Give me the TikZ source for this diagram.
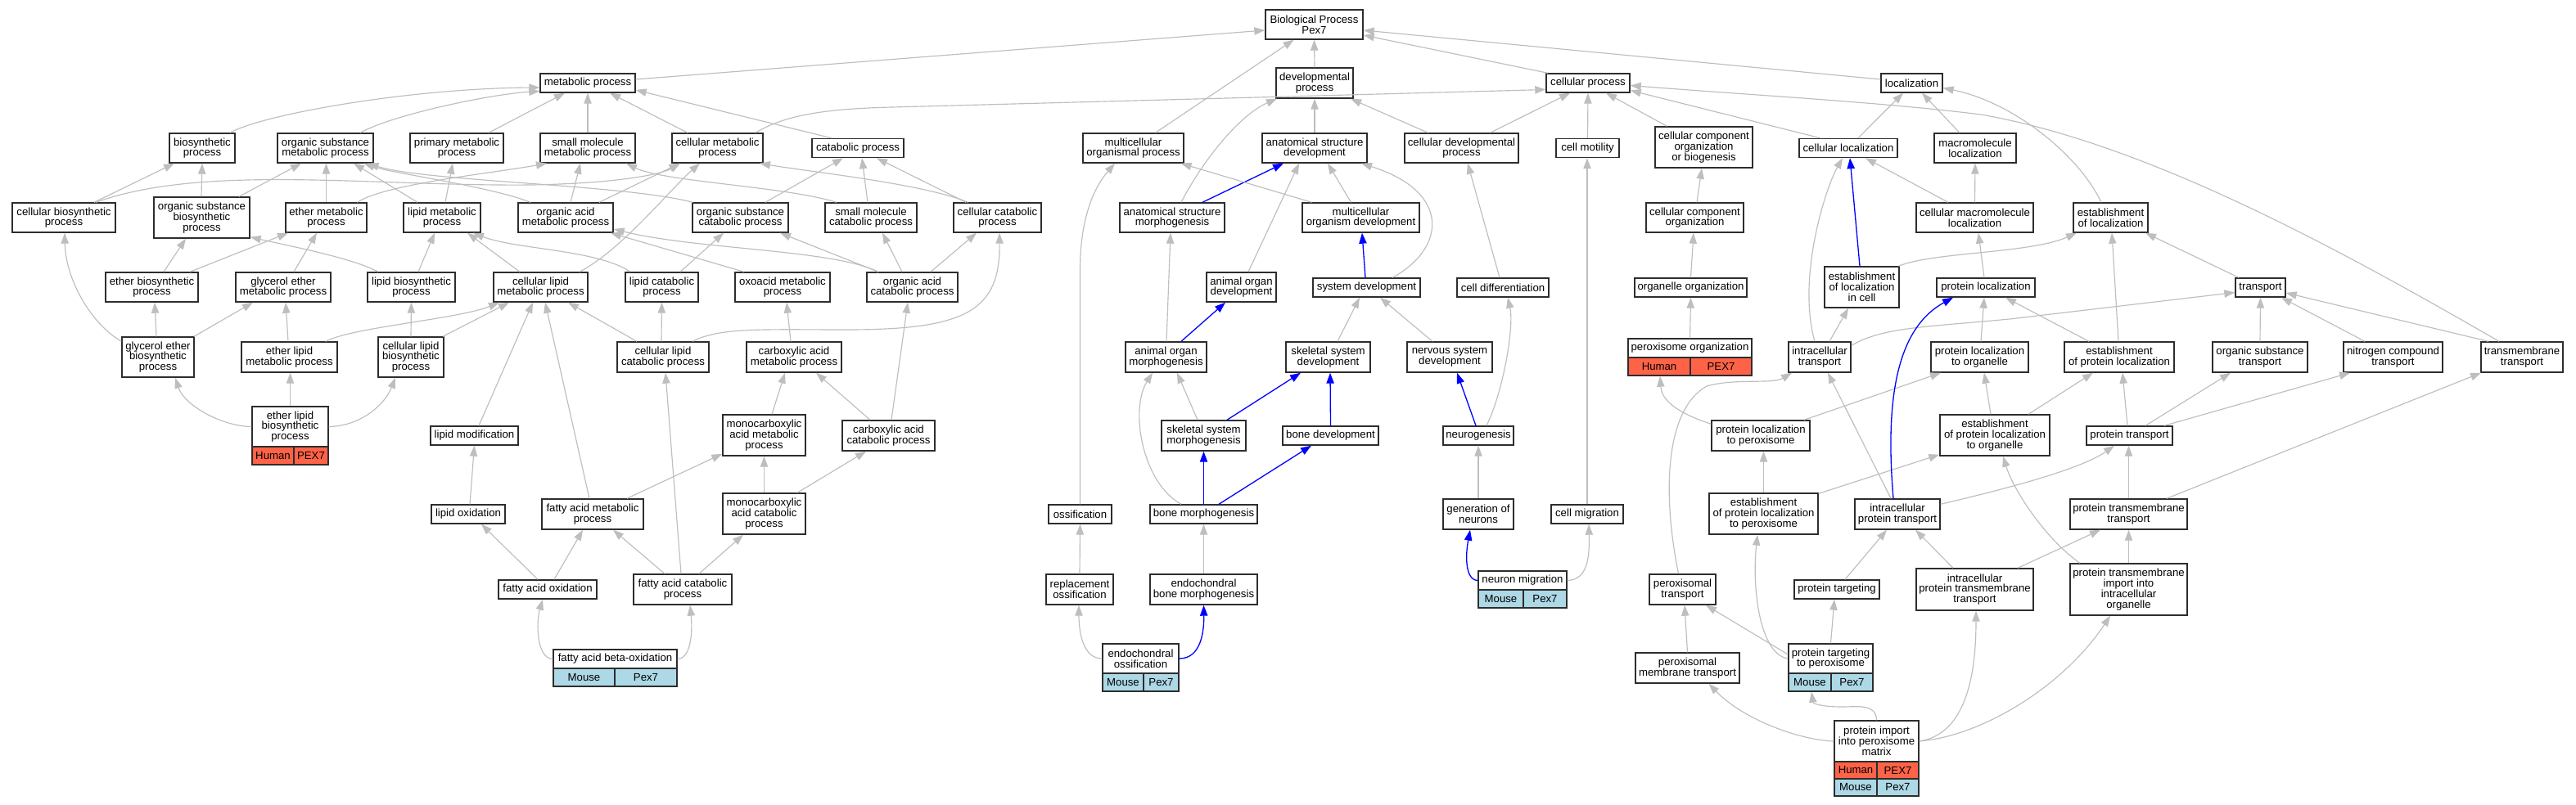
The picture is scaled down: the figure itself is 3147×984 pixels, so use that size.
\documentclass[tikz,border=0pt]{standalone}
\usepackage{fontspec}
\setmainfont{Liberation Sans}
\usetikzlibrary{arrows.meta}
\definecolor{edgegray}{RGB}{190,190,190}
\definecolor{humanred}{RGB}{255,99,71}
\definecolor{mouseblue}{RGB}{173,216,230}
\definecolor{bord}{RGB}{45,45,45}
\definecolor{edgeblue}{RGB}{0,0,255}
\newcommand{\gonode}[6]{\node[box,minimum width=#4pt,minimum height=#5pt] (#1) at (#2,#3) {#6};}
\newcommand{\gocell}[7]{\node[cellbox,fill=#6,minimum width=#4pt,minimum height=#5pt] (#1) at (#2,#3) {#7};}
\begin{document}
\begin{tikzpicture}[x=1pt,y=-1pt,
  box/.style={draw=bord,line width=1.4pt,fill=white,align=center,inner sep=0pt,font=\fontsize{13.2}{12.8}\selectfont},
  cellbox/.style={draw=bord,line width=1.4pt,align=center,inner sep=0pt,font=\fontsize{13.2}{12.8}\selectfont},
  e/.style={draw=edgegray,line width=1.15pt,-{Triangle[length=13pt,width=9.3pt]}},
  eb/.style={draw=edgeblue,line width=1.3pt,-{Triangle[length=13pt,width=9.3pt]}}]
\fill[white] (0,0) rectangle (3147,984);
\useasboundingbox (0,0) rectangle (3147,984);
% ---- nodes ----
\gonode{bp}{1605.5}{30}{119}{36}{Biological Process\\Pex7}
\gonode{mp}{718}{101.5}{116}{23}{metabolic process}
\gonode{dp}{1606}{101.5}{94}{37}{developmental\\process}
\gonode{cp}{1940}{101.5}{102}{23}{cellular process}
\gonode{loc}{2335.5}{101.5}{75}{23}{localization}
\gonode{bsp}{247}{181}{80}{36}{biosynthetic\\process}
\gonode{osmp}{397.5}{181}{117}{36}{organic substance\\metabolic process}
\gonode{pmp}{558}{181}{114}{36}{primary metabolic\\process}
\gonode{smmp}{718}{181}{116}{36}{small molecule\\metabolic process}
\gonode{cmp}{876.5}{181}{111}{36}{cellular metabolic\\process}
\gonode{catp}{1048}{181}{112}{23}{catabolic process}
\gonode{mop}{1384.5}{181}{123}{36}{multicellular\\organismal process}
\gonode{asd}{1606}{181}{128}{36}{anatomical structure\\development}
\gonode{cdp}{1785.5}{181}{139}{36}{cellular developmental\\process}
\gonode{cmot}{1939.5}{181}{77}{23}{cell motility}
\gonode{ccob}{2081.5}{180}{119}{50}{cellular component\\organization\\or biogenesis}
\gonode{cloc}{2258}{181}{120}{23}{cellular localization}
\gonode{mloc}{2413}{181}{100}{36}{macromolecule\\localization}
\gonode{cbp}{78}{266}{126}{36}{cellular biosynthetic\\process}
\gonode{osbp}{246.5}{266}{117}{50}{organic substance\\biosynthetic\\process}
\gonode{emp}{398.5}{266}{99}{36}{ether metabolic\\process}
\gonode{lmp}{540}{266}{94}{36}{lipid metabolic\\process}
\gonode{oamp}{691}{266}{116}{36}{organic acid\\metabolic process}
\gonode{oscp}{904.5}{266}{117}{36}{organic substance\\catabolic process}
\gonode{smcp}{1064}{266}{112}{36}{small molecule\\catabolic process}
\gonode{ccp}{1218.5}{266}{107}{36}{cellular catabolic\\process}
\gonode{asm}{1432}{266}{128}{36}{anatomical structure\\morphogenesis}
\gonode{mod}{1662.5}{266}{143}{36}{multicellular\\organism development}
\gonode{cco}{2070.5}{266}{119}{36}{cellular component\\organization}
\gonode{cmloc}{2412.5}{266}{143}{36}{cellular macromolecule\\localization}
\gonode{eloc}{2578.5}{266}{91}{36}{establishment\\of localization}
\gonode{ebp}{185.5}{351}{113}{36}{ether biosynthetic\\process}
\gonode{gemp}{346}{351}{116}{36}{glycerol ether\\metabolic process}
\gonode{lbp}{502.5}{351}{107}{36}{lipid biosynthetic\\process}
\gonode{clmp}{660.5}{351}{115}{36}{cellular lipid\\metabolic process}
\gonode{lcp}{808.5}{351}{89}{36}{lipid catabolic\\process}
\gonode{oxmp}{956}{351}{116}{36}{oxoacid metabolic\\process}
\gonode{oacp}{1114.5}{351}{111}{36}{organic acid\\catabolic process}
\gonode{aod}{1516.5}{351}{85}{36}{animal organ\\development}
\gonode{sd}{1669.5}{351.5}{131}{23}{system development}
\gonode{cdiff}{1836}{351.5}{112}{23}{cell differentiation}
\gonode{oo}{2065.5}{351.5}{137}{23}{organelle organization}
\gonode{elic}{2274.5}{351}{91}{50}{establishment\\of localization\\in cell}
\gonode{ploc}{2426}{351.5}{120}{23}{protein localization}
\gonode{tr}{2761.5}{351.5}{61}{23}{transport}
\gonode{gebp}{193}{436.5}{88}{49}{glycerol ether\\biosynthetic\\process}
\gonode{elmp}{353.5}{436.5}{117}{37}{ether lipid\\metabolic process}
\gonode{clbp}{502}{436.5}{80}{49}{cellular lipid\\biosynthetic\\process}
\gonode{clcp}{810}{436.5}{112}{37}{cellular lipid\\catabolic process}
\gonode{camp}{970}{436.5}{116}{37}{carboxylic acid\\metabolic process}
\gonode{aom}{1424.5}{436.5}{99}{37}{animal organ\\morphogenesis}
\gonode{ssd}{1622.5}{436.5}{103}{37}{skeletal system\\development}
\gonode{nsd}{1771}{436.5}{104}{37}{nervous system\\development}
\gonode{po}{2064.5}{425.5}{151}{23}{peroxisome organization}
\gocell{poH}{2027}{448}{76}{22}{humanred}{Human}
\gocell{poP}{2102.5}{448}{75}{22}{humanred}{PEX7}
\gonode{it}{2223}{436.5}{76}{37}{intracellular\\transport}
\gonode{plo}{2418.5}{436.5}{119}{37}{protein localization\\to organelle}
\gonode{epl}{2589}{436.5}{134}{37}{establishment\\of protein localization}
\gonode{ost}{2761}{436.5}{116}{37}{organic substance\\transport}
\gonode{nct}{2923.5}{436.5}{121}{37}{nitrogen compound\\transport}
\gonode{tmt}{3081}{436.5}{100}{37}{transmembrane\\transport}
\gonode{elbp}{354.5}{521.5}{93}{49}{ether lipid\\biosynthetic\\process}
\gocell{elbpH}{333.5}{557}{51}{22}{humanred}{Human}
\gocell{elbpP}{380}{557}{42}{22}{humanred}{PEX7}
\gonode{lmod}{579.5}{532.5}{107}{23}{lipid modification}
\gonode{mcamp}{933.5}{532}{101}{50}{monocarboxylic\\acid metabolic\\process}
\gonode{cacp}{1085.5}{532.5}{113}{37}{carboxylic acid\\catabolic process}
\gonode{ssm}{1470.5}{532.5}{103}{37}{skeletal system\\morphogenesis}
\gonode{bd}{1625.5}{532.5}{117}{23}{bone development}
\gonode{neur}{1806}{532.5}{86}{23}{neurogenesis}
\gonode{plp}{2151}{532.5}{120}{37}{protein localization\\to peroxisome}
\gonode{eplo}{2437}{532}{134}{50}{establishment\\of protein localization\\to organelle}
\gonode{pt}{2601.5}{532.5}{105}{23}{protein transport}
\gonode{lox}{572}{628.5}{90}{23}{lipid oxidation}
\gonode{famp}{724}{628.5}{124}{37}{fatty acid metabolic\\process}
\gonode{mcacp}{933.5}{628}{101}{50}{monocarboxylic\\acid catabolic\\process}
\gonode{oss}{1319.5}{628.5}{77}{23}{ossification}
\gonode{bm}{1470.5}{628.5}{131}{23}{bone morphogenesis}
\gonode{gon}{1806}{628.5}{86}{37}{generation of\\neurons}
\gonode{cmig}{1939}{628.5}{88}{23}{cell migration}
\gonode{eplp}{2154.5}{628}{133}{50}{establishment\\of protein localization\\to peroxisome}
\gonode{ipt}{2318}{628.5}{104}{37}{intracellular\\protein transport}
\gonode{ptt}{2600.5}{628.5}{143}{37}{protein transmembrane\\transport}
\gonode{fao}{669}{720.5}{120}{23}{fatty acid oxidation}
\gonode{facp}{834}{720.5}{120}{37}{fatty acid catabolic\\process}
\gonode{ross}{1319}{720.5}{82}{37}{replacement\\ossification}
\gonode{ebm}{1470.5}{720.5}{131}{37}{endochondral\\bone morphogenesis}
\gonode{nm}{1860}{709.5}{108}{23}{neuron migration}
\gocell{nmM}{1833.5}{732}{55}{22}{mouseblue}{Mouse}
\gocell{nmP}{1887.5}{732}{53}{22}{mouseblue}{Pex7}
\gonode{ptr}{2055.5}{720.5}{81}{37}{peroxisomal\\transport}
\gonode{ptg}{2244}{720.5}{104}{23}{protein targeting}
\gonode{iptt}{2412.5}{720.5}{143}{51}{intracellular\\protein transmembrane\\transport}
\gonode{ptiio}{2600.5}{720.5}{143}{63}{protein transmembrane\\import into\\intracellular\\organelle}
\gonode{fabo}{751.5}{805.5}{151}{23}{fatty acid beta-oxidation}
\gocell{faboM}{713.5}{828}{75}{22}{mouseblue}{Mouse}
\gocell{faboP}{789}{828}{76}{22}{mouseblue}{Pex7}
\gonode{eo}{1393.5}{805}{93}{36}{endochondral\\ossification}
\gocell{eoM}{1372}{834}{50}{22}{mouseblue}{Mouse}
\gocell{eoP}{1418.5}{834}{43}{22}{mouseblue}{Pex7}
\gonode{pmt}{2061.5}{816.5}{127}{37}{peroxisomal\\membrane transport}
\gonode{ptp}{2236.5}{805}{103}{36}{protein targeting\\to peroxisome}
\gocell{ptpM}{2211}{834}{52}{22}{mouseblue}{Mouse}
\gocell{ptpP}{2262.5}{834}{51}{22}{mouseblue}{Pex7}
\gonode{pipm}{2292.5}{906}{103}{50}{protein import\\into peroxisome\\matrix}
\gocell{pipmH}{2267}{941.5}{52}{21}{humanred}{Human}
\gocell{pipmP}{2318.5}{941.5}{51}{21}{humanred}{PEX7}
\gocell{pipmM}{2267}{962.5}{52}{21}{mouseblue}{Mouse}
\gocell{pipmQ}{2318.5}{962.5}{51}{21}{mouseblue}{Pex7}
% ---- edges: top ----
\draw[e] ([yshift=4.5pt]mp.east) -- ([yshift=-7pt]bp.west);
\draw[e] (dp.north) -- (bp.south);
\draw[e] ([xshift=-49pt]cp.north) -- ([yshift=-13pt]bp.east);
\draw[e] ([yshift=4.5pt]loc.west) -- ([yshift=-7pt]bp.east);
\draw[e] ([xshift=27pt]mop.north) -- ([xshift=-25pt]bp.south);
\draw[e] ([xshift=34pt]bsp.north) .. controls (320,140) and (500,108) .. ([yshift=-5.5pt]mp.west);
\draw[e] ([xshift=42.5pt]osmp.north) .. controls (480,140) and (600,115) .. ([yshift=-10pt]mp.west);
\draw[e] ([xshift=39pt]pmp.north) -- ([xshift=-28pt]mp.south);
\draw[e] (smmp.north) -- (mp.south);
\draw[e] ([xshift=-36.5pt]cmp.north) -- ([xshift=27pt]mp.south);
\draw[e] ([xshift=-32pt]catp.north) -- ([yshift=-8.5pt]mp.east);
\draw[e] ([xshift=46.5pt]cmp.north) .. controls (960,140) and (1010,133) .. (1090,131) -- ([yshift=-8pt]cp.west);
% row 266 -> 181
\draw[e] ([xshift=37pt]cbp.north) -- ([xshift=-34pt]bsp.south);
\draw[e] ([xshift=39pt]cbp.north) .. controls (250,200) and (450,228) .. (650,226) .. controls (760,224) and (810,212) .. ([xshift=-45.5pt]cmp.south);
\draw[e] ([xshift=-0.5pt]osbp.north) -- (bsp.south);
\draw[e] ([xshift=45.5pt]osbp.north) -- ([xshift=-29.5pt]osmp.south);
\draw[e] (emp.north) -- ([xshift=1pt]osmp.south);
\draw[e] ([xshift=38pt]emp.north) .. controls (470,225) and (600,212) .. ([xshift=-50pt]smmp.south);
\draw[e] ([xshift=-30pt]lmp.north) -- ([xshift=34.5pt]osmp.south);
\draw[e] ([xshift=4pt]lmp.north) -- ([xshift=-5pt]pmp.south);
\draw[e] ([xshift=-43pt]oamp.north) .. controls (600,228) and (480,212) .. ([xshift=47pt]osmp.south);
\draw[e] ([xshift=6pt]oamp.north) -- ([xshift=-9pt]smmp.south);
\draw[e] ([xshift=41pt]oamp.north) -- ([xshift=-46pt]cmp.south);
\draw[e] ([xshift=-58pt]oscp.north) .. controls (760,225) and (520,222) .. ([xshift=52pt]osmp.south);
\draw[e] ([xshift=30.5pt]oscp.north) -- ([xshift=-18pt]catp.south);
\draw[e] ([xshift=-42pt]smcp.north) .. controls (960,228) and (810,222) .. ([xshift=47pt]smmp.south);
\draw[e] ([xshift=-4pt]smcp.north) -- ([xshift=5pt]catp.south);
\draw[e] ([xshift=-38.5pt]ccp.north) -- ([xshift=23pt]catp.south);
\draw[e] ([xshift=-36pt]ccp.north) .. controls (1130,225) and (990,210) .. ([xshift=51.5pt]cmp.south);
\draw[eb] ([xshift=37pt]asm.north) -- ([xshift=-38pt]asd.south);
\draw[e] ([xshift=11pt]asm.north) .. controls (1470,195) and (1515,140) .. ([xshift=-46pt]dp.south);
\draw[e] ([xshift=-60pt]mod.north) -- ([xshift=58pt]mop.south);
\draw[e] ([xshift=-12pt]mod.north) -- ([xshift=16pt]asd.south);
\draw[e] ([xshift=-41pt]cdp.north) -- ([xshift=44pt]dp.south);
\draw[e] ([xshift=35pt]cdp.north) -- ([xshift=-22pt]cp.south);
\draw[e] (asd.north) -- (dp.south);
\draw[e] (cmot.north) -- (cp.south);
\draw[e] ([xshift=-45pt]ccob.north) -- ([xshift=22pt]cp.south);
\draw[e] ([xshift=-34pt]cloc.north) -- ([yshift=-9pt]cp.east);
\draw[e] ([xshift=-28pt]tmt.north) .. controls (2850,300) and (2620,175) .. (2420,140) .. controls (2300,125) and (2150,117) .. ([yshift=-3pt]cp.east);
\draw[e] ([xshift=12pt]cloc.north) -- ([xshift=-10.5pt]loc.south);
\draw[e] ([xshift=-19pt]mloc.north) -- ([xshift=12.5pt]loc.south);
\draw[e] ([xshift=-11.5pt]eloc.north) .. controls (2540,190) and (2460,125) .. ([yshift=-6pt]loc.east);
\draw[e] ([xshift=2.5pt]cco.north) -- ([xshift=-2.5pt]ccob.south);
\draw[e] ([xshift=-32.5pt]cmloc.north) -- ([xshift=21pt]cloc.south);
\draw[e] (cmloc.north) -- (mloc.south);
% row 351
\draw[e] ([xshift=14.5pt]ebp.north) -- ([xshift=-19.5pt]osbp.south);
\draw[e] ([xshift=46.5pt]ebp.north) -- ([xshift=-46.5pt]emp.south);
\draw[e] ([xshift=13pt]gemp.north) -- ([xshift=-11.5pt]emp.south);
\draw[e] ([xshift=-40.5pt]lbp.north) .. controls (430,315) and (350,300) .. ([yshift=2pt]osbp.south east);
\draw[e] ([xshift=8.5pt]lbp.north) -- ([xshift=-9pt]lmp.south);
\draw[e] ([xshift=-25.5pt]clmp.north) -- ([xshift=31pt]lmp.south);
\draw[e] ([xshift=47.5pt]clmp.north) .. controls (760,305) and (820,230) .. ([xshift=-21.5pt]cmp.south);
\draw[e] ([xshift=-38.5pt]lcp.north) .. controls (730,305) and (630,305) .. ([xshift=38pt]lmp.south);
\draw[e] ([xshift=22.5pt]lcp.north) -- ([xshift=-20.5pt]oscp.south);
\draw[e] ([xshift=-47pt]oxmp.north) -- ([xshift=55pt]oamp.south);
\draw[e] ([xshift=-42pt]oacp.north) .. controls (1020,305) and (850,305) .. ([yshift=-14pt]oamp.east);
\draw[e] ([xshift=-41.5pt]oacp.north) -- ([xshift=48.5pt]oscp.south);
\draw[e] ([xshift=-12.5pt]oacp.north) -- ([xshift=14pt]smcp.south);
\draw[e] ([xshift=22.5pt]oacp.north) -- ([xshift=-25.5pt]ccp.south);
\draw[e] ([xshift=8.5pt]aod.north) -- ([xshift=-19pt]asd.south);
\draw[e] ([xshift=31.5pt]sd.north) .. controls (1765,305) and (1775,235) .. ([xshift=57pt]asd.south);
\draw[eb] ([xshift=-1.5pt]sd.north) -- ([xshift=1.5pt]mod.south);
\draw[e] ([xshift=-4pt]cdiff.north) -- ([xshift=7.5pt]cdp.south);
\draw[e] (oo.north) -- ([xshift=-1.5pt]cco.south);
\draw[eb] ([xshift=-2.5pt]elic.north) -- ([xshift=2pt]cloc.south);
\draw[e] ([xshift=45pt]elic.north) .. controls (2360,308) and (2480,310) .. ([xshift=-41.5pt]eloc.south);
\draw[e] ([xshift=-2pt]ploc.north) -- ([xshift=4.5pt]cmloc.south);
\draw[e] ([xshift=-26.5pt]tr.north) -- ([xshift=42.5pt]eloc.south);
% row 437
\draw[e] ([yshift=-6pt]gebp.north west) .. controls (110,395) and (80,340) .. ([xshift=1pt]cbp.south);
\draw[e] ([xshift=-2pt]gebp.north) -- ([xshift=3.5pt]ebp.south);
\draw[e] ([xshift=44pt]gebp.north) -- ([xshift=-37pt]gemp.south);
\draw[e] ([xshift=-1.5pt]elmp.north) -- ([xshift=3pt]gemp.south);
\draw[e] ([xshift=44.5pt]elmp.north) .. controls (430,400) and (560,390) .. ([xshift=-50.5pt]clmp.south);
\draw[e] (clbp.north) -- (lbp.south);
\draw[e] ([xshift=39pt]clbp.north) -- ([xshift=-38.5pt]clmp.south);
\draw[e] ([xshift=-32pt]clcp.north) -- ([xshift=33.5pt]clmp.south);
\draw[e] ([xshift=-2pt]clcp.north) -- (lcp.south);
\draw[e] ([xshift=36pt]clcp.north) .. controls (880,400) and (930,403) .. (1035,403) .. controls (1180,403) and (1222,380) .. ([xshift=2.5pt]ccp.south);
\draw[e] ([xshift=-4pt]camp.north) -- ([xshift=5pt]oxmp.south);
\draw[eb] ([xshift=18.5pt]aom.north) -- ([xshift=-19.5pt]aod.south);
\draw[e] ([xshift=0.5pt]aom.north) -- ([xshift=-2pt]asm.south);
\draw[e] ([xshift=11.5pt]ssd.north) -- ([xshift=-8.5pt]sd.south);
\draw[e] ([xshift=-21pt]nsd.north) -- ([xshift=16.5pt]sd.south);
\draw[e] (po.north) -- (oo.south);
\draw[e] ([xshift=12pt]it.north) -- ([xshift=-16.5pt]elic.south);
\draw[e] ([xshift=-6pt]it.north) .. controls (2195,340) and (2230,230) .. ([xshift=-7pt]cloc.south);
\draw[e] ([yshift=-5pt]it.north east) .. controls (2300,400) and (2350,400) .. (2455,390) -- ([yshift=-6pt]tr.west);
\draw[e] ([xshift=1.5pt]plo.north) -- ([xshift=-2pt]ploc.south);
\draw[e] ([xshift=-37pt]epl.north) -- ([xshift=24pt]ploc.south);
\draw[e] ([xshift=-1pt]epl.north) -- ([xshift=1.5pt]eloc.south);
\draw[e] (ost.north) -- (tr.south);
\draw[e] ([xshift=-34.5pt]nct.north) -- ([xshift=25.5pt]tr.south);
\draw[e] ([xshift=-41pt]tmt.north) -- ([yshift=-6.5pt]tr.east);
% row 532
\draw[e] (elbp.west) .. controls (270,521) and (225,495) .. ([xshift=21pt]gebp.south);
\draw[e] (elbp.north) -- ([xshift=1pt]elmp.south);
\draw[e] (elbp.east) .. controls (440,521) and (470,495) .. ([xshift=-19pt]clbp.south);
\draw[e] ([xshift=5.5pt]lmod.north) -- ([xshift=-9.5pt]clmp.south);
\draw[e] ([xshift=9.5pt]mcamp.north) -- ([xshift=-11pt]camp.south);
\draw[e] ([xshift=-22.5pt]cacp.north) -- ([xshift=27pt]camp.south);
\draw[e] ([xshift=3.5pt]cacp.north) -- ([xshift=-5.5pt]oacp.south);
\draw[e] ([xshift=-7.5pt]ssm.north) -- ([xshift=13.5pt]aom.south);
\draw[eb] ([xshift=28.5pt]ssm.north) -- ([xshift=-33.5pt]ssd.south);
\draw[eb] (bd.north) -- ([xshift=2.5pt]ssd.south);
\draw[eb] ([xshift=-3pt]neur.north) -- ([xshift=9pt]nsd.south);
\draw[e] ([xshift=10pt]neur.north) .. controls (1836,480) and (1850,400) .. ([xshift=6pt]cdiff.south);
\draw[e] ([xshift=53pt]plp.north) -- ([xshift=-47.5pt]plo.south);
\draw[e] ([yshift=-5pt]plp.north west) .. controls (2050,505) and (2030,490) .. ([xshift=1pt]poH.south);
\draw[e] ([xshift=-5pt]eplo.north) -- ([xshift=5.5pt]plo.south);
\draw[e] ([xshift=41pt]eplo.north) -- ([xshift=-32pt]epl.south);
\draw[e] ([xshift=-2.5pt]pt.north) -- ([xshift=4pt]epl.south);
\draw[e] ([xshift=19.5pt]pt.north) -- ([xshift=-36pt]ost.south);
\draw[e] ([xshift=42.5pt]pt.north) -- ([xshift=-52.5pt]nct.south);
% row 628
\draw[e] ([xshift=2pt]lox.north) -- (lmod.south);
\draw[e] ([xshift=-4pt]famp.north) -- ([xshift=5.5pt]clmp.south);
\draw[e] ([xshift=42pt]famp.north) -- ([yshift=3pt]mcamp.south west);
\draw[e] (mcacp.north) -- (mcamp.south);
\draw[e] ([xshift=40.5pt]mcacp.north) -- ([xshift=-27.5pt]cacp.south);
\draw[e] (oss.north) -- (1319.5,330) .. controls (1319.5,260) and (1340,225) .. ([xshift=-22.5pt]mop.south);
\draw[eb] (bm.north) -- (ssm.south);
\draw[eb] ([xshift=18.5pt]bm.north) -- ([xshift=-23.5pt]bd.south);
\draw[e] ([xshift=-27.5pt]bm.north) .. controls (1395,590) and (1380,500) .. ([xshift=-16.5pt]aom.south);
\draw[e] (gon.north) -- (neur.south);
\draw[e] (cmig.north) -- ([xshift=-0.5pt]cmot.south);
\draw[e] (eplp.north) -- ([xshift=3.5pt]plp.south);
\draw[e] ([yshift=-1pt]eplp.north east) -- ([yshift=2pt]eplo.south west);
\draw[e] ([xshift=-8pt]ipt.north) -- ([xshift=10pt]it.south);
\draw[eb] ([xshift=-5pt]ipt.north) .. controls (2302,480) and (2320,400) .. ([xshift=-40pt]ploc.south);
\draw[e] ([yshift=-7pt]ipt.north east) .. controls (2440,600) and (2540,575) .. ([xshift=-18.5pt]pt.south);
\draw[e] (ptt.north) -- ([xshift=-1pt]pt.south);
\draw[e] ([xshift=46.5pt]ptt.north) -- ([xshift=-50pt]tmt.south);
% row 720
\draw[e] ([xshift=-12pt]fao.north) -- ([xshift=16pt]lox.south);
\draw[e] ([xshift=8pt]fao.north) -- ([xshift=-12pt]famp.south);
\draw[e] ([xshift=-22pt]facp.north) -- ([xshift=25pt]famp.south);
\draw[e] ([xshift=-2pt]facp.north) -- ([xshift=3pt]clcp.south);
\draw[e] ([xshift=20pt]facp.north) -- ([xshift=-25.5pt]mcacp.south);
\draw[e] (ross.north) -- (oss.south);
\draw[e] (ebm.north) -- (bm.south);
\draw[e] ([xshift=-5pt]ptr.north) .. controls (2030,600) and (2035,500) .. (2085,472) .. controls (2120,462) and (2165,470) .. ([xshift=-34pt]it.south);
\draw[e] ([xshift=10pt]ptg.north) -- ([xshift=-13pt]ipt.south);
\draw[e] ([xshift=-26.5pt]iptt.north) -- ([xshift=22pt]ipt.south);
\draw[e] ([xshift=52.5pt]iptt.north) -- ([xshift=-34.5pt]ptt.south);
\draw[e] (ptiio.north) -- (ptt.south);
\draw[e] ([xshift=-59.5pt]ptiio.north) .. controls (2500,660) and (2460,600) .. ([xshift=10pt]eplo.south);
% bottom rows
\draw[e] (fabo.west) .. controls (655,805) and (655,760) .. ([xshift=-6pt]fao.south);
\draw[e] (fabo.east) .. controls (845,805) and (846,770) .. ([xshift=9pt]facp.south);
\draw[e] (eo.west) .. controls (1322,805) and (1318,770) .. ([xshift=-1pt]ross.south);
\draw[eb] (eo.east) .. controls (1468,805) and (1471,770) .. (ebm.south);
\draw[eb] (nm.west) .. controls (1790,709) and (1790,680) .. ([xshift=-10pt]gon.south);
\draw[e] (nm.east) .. controls (1940,709) and (1942,680) .. ([xshift=2pt]cmig.south);
\draw[e] (pmt.north) -- ([xshift=2.5pt]ptr.south);
\draw[e] ([yshift=5pt]ptp.west) -- ([xshift=28.5pt]ptr.south);
\draw[e] (ptp.north) -- ([xshift=-3pt]ptg.south);
\draw[e] (ptp.west) .. controls (2150,800) and (2140,720) .. ([xshift=-7.5pt]eplp.south);
\draw[e] (pipm.north) .. controls (2292,860) and (2270,864) .. (2250,864) .. controls (2225,864) and (2215,860) .. ([xshift=2pt]ptpM.south);
\draw[e] (pipm.west) .. controls (2200,905) and (2130,880) .. ([xshift=26pt]pmt.south);
\draw[e] (pipm.east) .. controls (2385,900) and (2414,860) .. ([xshift=1.5pt]iptt.south);
\draw[e] (pipm.east) .. controls (2420,900) and (2520,840) .. ([xshift=-22.5pt]ptiio.south);
\end{tikzpicture}
\end{document}
